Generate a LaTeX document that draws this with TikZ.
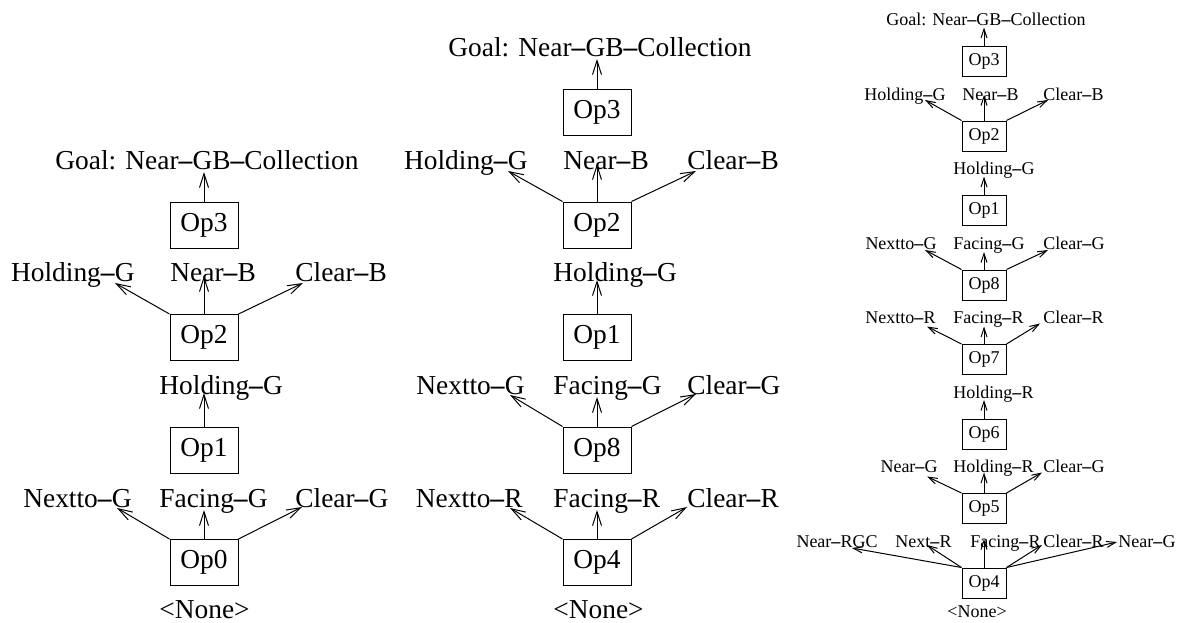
\documentclass[tikz,border=0pt]{standalone}
\usepackage{fontspec}
\setmainfont{Liberation Serif}
\usepackage{tikz}
\usetikzlibrary{arrows.meta}
\newcommand{\planfont}{\fontsize{13.7}{16}\selectfont}
\newcommand{\smallplanfont}{\fontsize{9}{11}\selectfont}
\newcommand{\hy}{\textbf{--}}
\tikzstyle{opbox} = [draw, line width=0.5pt, minimum width=34pt, minimum height=23pt, inner sep=0pt, font=\planfont]
\tikzstyle{fact} = [inner sep=0pt, font=\planfont]
\tikzstyle{smallbox} = [opbox, minimum width=22pt, minimum height=15pt, font=\smallplanfont]
\tikzstyle{smallfact} = [fact, font=\smallplanfont]
\tikzstyle{arr} = [->, >={Straight Barb[length=7pt,width=4.5pt]}, line width=0.5pt]
\tikzstyle{smallarr} = [arr, >={Straight Barb[length=4.5pt,width=3pt]}]

\begin{document}
\begin{tikzpicture}[x=0.5pt, y=-0.5pt]
\useasboundingbox (0,0) rectangle (1177,622);

% Left plan
\node (aGoal) [fact, anchor=base] at (207,169) {Goal: Near\hy{}GB\hy{}Collection};
\node (a3) [opbox] at (204,225) {Op3};
\node (aHoldG) [fact, anchor=base east] at (135,281) {Holding\hy{}G};
\node (aNearB) [fact, anchor=base west] at (170,281) {Near\hy{}B};
\node (aClearB) [fact, anchor=base west] at (295,281) {Clear\hy{}B};
\node (a2) [opbox] at (204,337.5) {Op2};
\node (aHold) [fact, anchor=base west] at (159,394) {Holding\hy{}G};
\node (a1) [opbox] at (204,450) {Op1};
\node (aNextG) [fact, anchor=base east] at (132,507) {Nextto\hy{}G};
\node (aFaceG) [fact, anchor=base west] at (159,507) {Facing\hy{}G};
\node (aClearG) [fact, anchor=base west] at (295,507) {Clear\hy{}G};
\node (a0) [opbox] at (204,562.5) {Op0};
\node (aNone) [fact, anchor=base west] at (159,618) {<None>};

\draw[arr] (a3.north) -- ([yshift=-1.5pt]a3.north |- aGoal.base);
\draw[arr] (a2.north west) -- ([xshift=-10pt,yshift=-1pt]aHoldG.base east);
\draw[arr] (a2.north) -- ([yshift=2.5pt]a2.north |- aNearB.base);
\draw[arr] (a2.north east) -- ([xshift=4pt,yshift=-1pt]aClearB.base west);
\draw[arr] (a1.north) -- ([yshift=0.5pt]a1.north |- aHold.base);
\draw[arr] (a0.north west) -- ([xshift=-7.5pt,yshift=-0.5pt]aNextG.base east);
\draw[arr] (a0.north) -- ([yshift=-1.5pt]a0.north |- aFaceG.base);
\draw[arr] (a0.north east) -- ([xshift=3.5pt]aClearG.base west);

% Middle plan
\node (bGoal) [fact, anchor=base] at (600,56) {Goal: Near\hy{}GB\hy{}Collection};
\node (b3) [opbox] at (597,112) {Op3};
\node (bHoldG) [fact, anchor=base east] at (528,169) {Holding\hy{}G};
\node (bNearB) [fact, anchor=base west] at (563,169) {Near\hy{}B};
\node (bClearB) [fact, anchor=base west] at (687,169) {Clear\hy{}B};
\node (b2) [opbox] at (597,225) {Op2};
\node (bHold) [fact, anchor=base west] at (553,281) {Holding\hy{}G};
\node (b1) [opbox] at (597,337.5) {Op1};
\node (bNextG) [fact, anchor=base east] at (525,394) {Nextto\hy{}G};
\node (bFaceG) [fact, anchor=base west] at (553,394) {Facing\hy{}G};
\node (bClearG) [fact, anchor=base west] at (687,394) {Clear\hy{}G};
\node (b8) [opbox] at (597,450) {Op8};
\node (bNextR) [fact, anchor=base east] at (523,507) {Nextto\hy{}R};
\node (bFaceR) [fact, anchor=base west] at (553,507) {Facing\hy{}R};
\node (bClearR) [fact, anchor=base west] at (687,507) {Clear\hy{}R};
\node (b4) [opbox] at (597,562.5) {Op4};
\node (bNone) [fact, anchor=base west] at (553,618) {<None>};

\draw[arr] (b3.north) -- ([yshift=-1.5pt]b3.north |- bGoal.base);
\draw[arr] (b2.north west) -- ([xshift=-10pt,yshift=-1pt]bHoldG.base east);
\draw[arr] (b2.north) -- ([yshift=2.5pt]b2.north |- bNearB.base);
\draw[arr] (b2.north east) -- ([xshift=4.5pt,yshift=-1pt]bClearB.base west);
\draw[arr] (b1.north) -- ([yshift=0.5pt]b1.north |- bHold.base);
\draw[arr] (b8.north west) -- ([xshift=-7.5pt,yshift=-0.5pt]bNextG.base east);
\draw[arr] (b8.north) -- ([yshift=-1.5pt]b8.north |- bFaceG.base);
\draw[arr] (b8.north east) -- ([xshift=4.5pt]bClearG.base west);
\draw[arr] (b4.north west) -- ([xshift=-6.5pt,yshift=-0.5pt]bNextR.base east);
\draw[arr] (b4.north) -- ([yshift=-1.5pt]b4.north |- bFaceR.base);
\draw[arr] (b4.north east) -- ([xshift=0pt]bClearR.base west);

% Right plan
\node (cGoal) [smallfact, anchor=base] at (986,25.5) {Goal: Near\hy{}GB\hy{}Collection};
\node (c3) [smallbox] at (984,61.5) {Op3};
\node (cHoldG) [smallfact, anchor=base east] at (946,100) {Holding\hy{}G};
\node (cNearB) [smallfact, anchor=base west] at (962,100) {Near\hy{}B};
\node (cClearB) [smallfact, anchor=base west] at (1043,100) {Clear\hy{}B};
\node (c2) [smallbox] at (984,136) {Op2};
\node (cHoldG2) [smallfact, anchor=base west] at (953,174.5) {Holding\hy{}G};
\node (c1) [smallbox] at (984,210.5) {Op1};
\node (cNextG) [smallfact, anchor=base east] at (937,249) {Nextto\hy{}G};
\node (cFaceG) [smallfact, anchor=base west] at (953,249) {Facing\hy{}G};
\node (cClearG) [smallfact, anchor=base west] at (1043,249) {Clear\hy{}G};
\node (c8) [smallbox] at (984,285) {Op8};
\node (cNextR) [smallfact, anchor=base east] at (936,323.5) {Nextto\hy{}R};
\node (cFaceR) [smallfact, anchor=base west] at (953,323.5) {Facing\hy{}R};
\node (cClearR) [smallfact, anchor=base west] at (1043,323.5) {Clear\hy{}R};
\node (c7) [smallbox] at (984,359.5) {Op7};
\node (cHoldR) [smallfact, anchor=base west] at (953,398) {Holding\hy{}R};
\node (c6) [smallbox] at (984,434) {Op6};
\node (cNearG) [smallfact, anchor=base east] at (938,472.5) {Near\hy{}G};
\node (cHoldR2) [smallfact, anchor=base west] at (953,472.5) {Holding\hy{}R};
\node (cClearG2) [smallfact, anchor=base west] at (1043,472.5) {Clear\hy{}G};
\node (c5) [smallbox] at (984,508.5) {Op5};
\node (cNearRGC) [smallfact, anchor=base east] at (878,547) {Near\hy{}RGC};
\node (cNextR2) [smallfact, anchor=base west] at (895,547) {Next\hy{}R};
\node (cFaceR2) [smallfact, anchor=base west] at (970,547) {Facing\hy{}R};
\node (cClearR2) [smallfact, anchor=base west] at (1043,547) {Clear\hy{}R};
\node (cNearG2) [smallfact, anchor=base west] at (1118,547) {Near\hy{}G};
\node (c4) [smallbox] at (984,583) {Op4};
\node (cNone) [smallfact, anchor=base west] at (947,617) {<None>};

\draw[smallarr] (c3.north) -- ([yshift=-1pt]c3.north |- cGoal.base);
\draw[smallarr] (c2.north west) -- ([xshift=-10.5pt]cHoldG.base east);
\draw[smallarr] (c2.north) -- ([yshift=2.5pt]c2.north |- cNearB.base);
\draw[smallarr] (c2.north east) -- ([xshift=2.5pt]cClearB.base west);
\draw[smallarr] (c1.north) -- ([yshift=-1pt]c1.north |- cHoldG2.base);
\draw[smallarr] (c8.north west) -- ([xshift=-6pt,yshift=-0.5pt]cNextG.base east);
\draw[smallarr] (c8.north) -- ([yshift=-1.5pt]c8.north |- cFaceG.base);
\draw[smallarr] (c8.north east) -- ([xshift=2.5pt,yshift=-0.5pt]cClearG.base west);
\draw[smallarr] (c7.north west) -- ([xshift=-4.5pt,yshift=-1.5pt]cNextR.base east);
\draw[smallarr] (c7.north) -- ([yshift=-1.5pt]c7.north |- cFaceR.base);
\draw[smallarr] (c7.north east) -- ([xshift=-1.5pt]cClearR.base west);
\draw[smallarr] (c6.north) -- ([yshift=-1pt]c6.north |- cHoldR.base);
\draw[smallarr] (c5.north west) -- ([xshift=-5.5pt,yshift=-2pt]cNearG.base east);
\draw[smallarr] (c5.north) -- (c5.north |- cHoldR2.base);
\draw[smallarr] (c5.north east) -- ([xshift=-0.5pt]cClearG2.base west);
\draw[smallarr] (c4.north west) -- ([xshift=-13pt,yshift=-0.5pt]cNearRGC.base east);
\draw[smallarr] (c4.north west) -- ([xshift=16pt,yshift=1pt]cNextR2.base west);
\draw[smallarr] (c4.north) -- ([yshift=4pt]c4.north |- cFaceR2.base);
\draw[smallarr] (c4.north east) -- ([xshift=-0.5pt,yshift=1pt]cClearR2.base west);
\draw[smallarr] (c4.north east) -- ([xshift=-0.5pt,yshift=2.5pt]cNearG2.base west);
\end{tikzpicture}
\end{document}
